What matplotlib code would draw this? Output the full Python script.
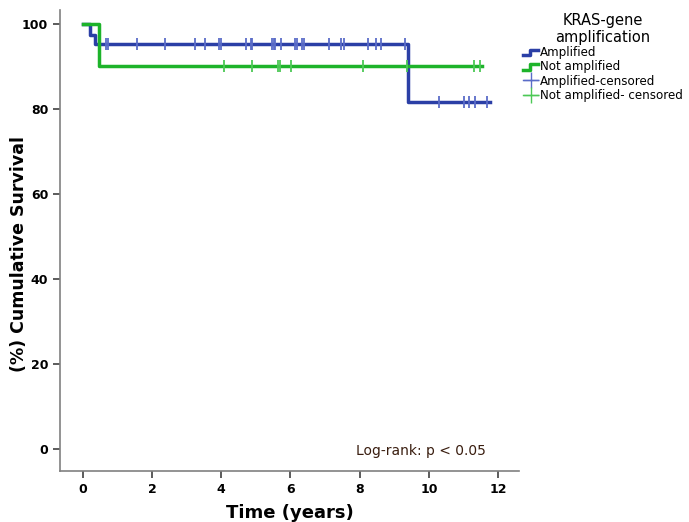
# KRAS 遺伝子増幅別の Kaplan-Meier 曲線
import numpy as np
import matplotlib.pyplot as plt
from matplotlib.legend_handler import HandlerBase
from matplotlib.lines import Line2D

BLUE = "#2b3fa6"
GREEN = "#1db32a"
BLUE_C = "#5a6cc8"
GREEN_C = "#4cc856"

# 階段状の生存曲線 (時間 [年], 生存率 [%])
amp_times = [0.0, 0.2, 0.35, 9.4, 11.76]
amp_surv = [100, 97.4, 95.2, 81.6, 81.6]
notamp_times = [0.0, 0.47, 11.55]
notamp_surv = [100, 90.1, 90.1]

# 打ち切り時点
amp_cens = [0.68, 0.73, 1.57, 2.37, 3.24, 3.53, 3.94, 4.00, 4.73, 4.87, 4.89,
            5.48, 5.52, 5.56, 5.74, 6.14, 6.18, 6.34, 6.38, 7.12, 7.46, 7.54,
            8.25, 8.47, 8.63, 9.31, 10.29, 11.01, 11.17, 11.32, 11.67]
notamp_cens = [4.08, 4.88, 5.65, 5.71, 6.01, 8.10, 9.36, 11.30, 11.49]

labels = ["Amplified", "Not amplified", "Amplified-censored", "Not amplified- censored"]


def surv_at(times, surv, t):
    """打ち切り時点の生存率"""
    idx = np.searchsorted(times, t, side="right") - 1
    return surv[idx]


class StepHandler(HandlerBase):
    """凡例用の階段記号"""
    def create_artists(self, legend, orig_handle, xdescent, ydescent, width, height, fontsize, trans):
        x = [0, width * 0.45, width * 0.45, width]
        y = [height * 0.1, height * 0.1, height * 0.8, height * 0.8]
        ln = Line2D(np.array(x) - xdescent, np.array(y) - ydescent,
                    color=orig_handle.get_color(), lw=2.5, transform=trans)
        return [ln]


fig = plt.figure(figsize=(6.89, 5.22), dpi=100)
ax = fig.add_axes([0.087, 0.098, 0.666, 0.883])

h1, = ax.step(amp_times, amp_surv, where="post", color=BLUE, lw=2.5)
h2, = ax.step(notamp_times, notamp_surv, where="post", color=GREEN, lw=2.5)

# 打ち切り記号
ac_y = [surv_at(amp_times, amp_surv, t) for t in amp_cens]
nc_y = [surv_at(notamp_times, notamp_surv, t) for t in notamp_cens]
h3, = ax.plot(amp_cens, ac_y, ls="none", marker="|", ms=9, mew=1.3, color=BLUE_C)
h4, = ax.plot(notamp_cens, nc_y, ls="none", marker="|", ms=9, mew=1.3, color=GREEN_C)

ax.set_xlim(-0.66, 12.6)
ax.set_ylim(-5.2, 103.3)
ax.set_xticks(range(0, 13, 2))
ax.set_yticks(range(0, 101, 20))

for s in ["top", "right"]:
    ax.spines[s].set_visible(False)
for s in ["left", "bottom"]:
    ax.spines[s].set_color("#808080")
    ax.spines[s].set_linewidth(1.2)
ax.tick_params(length=5, width=1.2, color="#404040", labelsize=9)
for lab in ax.get_xticklabels() + ax.get_yticklabels():
    lab.set_fontweight("bold")

ax.set_xlabel("Time (years)", fontsize=13, fontweight="bold", labelpad=6)
ax.set_ylabel("(%) Cumulative Survival", fontsize=12.5, fontweight="bold")
ax.yaxis.set_label_coords(-0.07, 0.47)

ax.text(11.65, -0.5, "Log-rank: p < 0.05", ha="right", va="center", fontsize=10, color="#3a1e10")

# 凡例用ハンドル
c1 = Line2D([], [], color=BLUE_C, marker="+", ms=12, mew=1.0, lw=1.0)
c2 = Line2D([], [], color=GREEN_C, marker="+", ms=12, mew=1.0, lw=1.0)
leg = fig.legend([h1, h2, c1, c2], labels, loc="upper left", bbox_to_anchor=(0.752, 0.985),
                 frameon=False, fontsize=8.6, title="KRAS-gene\namplification",
                 title_fontsize=10.5, handlelength=1.3, handletextpad=0.1,
                 labelspacing=0.1, borderaxespad=0,
                 handler_map={h1: StepHandler(), h2: StepHandler()})
leg.get_title().set_multialignment("center")

fig.savefig("out.png", dpi=100)
